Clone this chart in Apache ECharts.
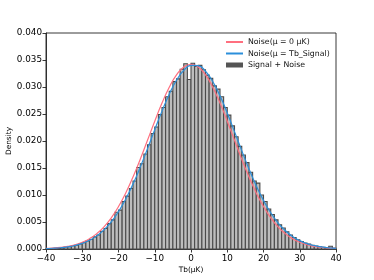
<!DOCTYPE html>
<html>
<head>
<meta charset="utf-8">
<script src="https://cdn.jsdelivr.net/npm/echarts@6/dist/echarts.min.js"></script>
<style>html,body{margin:0;padding:0;background:#fff}#c{width:374px;height:280px}</style>
</head>
<body>
<div id="c"></div>
<script>
// Histogram bins: left edges (width 1 μK) and densities
var binEdges = [];
for (var e = -40; e < 40; e++) binEdges.push(e);
var histDensity = [
  0.00005,0.0001,0.00012,0.00018,0.00025,0.00036,0.00044,0.0006,0.00072,0.00095,
  0.00115,0.00148,0.00175,0.00225,0.0026,0.0033,0.0038,0.0047,0.0054,0.0068,
  0.0072,0.0088,0.0098,0.0112,0.0126,0.0151,0.0158,0.0176,0.0193,0.0214,
  0.0226,0.0249,0.0262,0.0282,0.0292,0.0310,0.0315,0.0333,0.0343,0.0314,
  0.0344,0.0338,0.0340,0.0332,0.0322,0.0316,0.0302,0.0296,0.0282,0.0262,
  0.0248,0.0228,0.0208,0.0190,0.0174,0.0160,0.0142,0.0126,0.0122,0.0100,
  0.0088,0.0074,0.0064,0.0054,0.0045,0.0039,0.0032,0.0026,0.0021,0.0017,
  0.0014,0.0011,0.0009,0.0007,0.00055,0.00042,0.00032,0.00022,0.0005,0.00015
];
// Curve sample positions
var curveX = [-40,-38,-36,-34,-32,-30,-28,-26,-24,-22,-20,-18,-16,-14,-12,-10,-8,-6,-4,-2,0,
              2,4,6,8,10,12,14,16,18,20,22,24,26,28,30,32,34,36,38,40];
var noiseZero = [0.00010,0.00017,0.00029,0.00049,0.00079,0.00125,0.00191,0.00285,0.00411,0.00577,
                 0.00786,0.01039,0.01334,0.01663,0.02014,0.02367,0.02702,0.02996,0.03225,0.03370,0.0342,
                 0.03370,0.03225,0.02996,0.02702,0.02367,0.02014,0.01663,0.01334,0.01039,0.00786,
                 0.00577,0.00411,0.00285,0.00191,0.00125,0.00079,0.00049,0.00029,0.00017,0.00010];
var noiseSignal = [0.000076,0.000136,0.000236,0.000399,0.000654,0.00104,0.00161,0.00243,0.00354,0.00502,
                   0.00692,0.00925,0.01202,0.01516,0.01857,0.02210,0.02553,0.02866,0.03124,0.03307,0.03400,
                   0.03395,0.03292,0.03101,0.02836,0.02520,0.02174,0.01822,0.01483,0.01172,0.00900,
                   0.00671,0.00486,0.00342,0.00233,0.00155,0.00100,0.00062,0.00038,0.00022,0.00013];
var xTicks = [-40,-30,-20,-10,0,10,20,30,40];
var yTicks = [0,0.005,0.01,0.015,0.02,0.025,0.03,0.035,0.04];

var FONT = 'DejaVu Sans';
var histData = binEdges.map(function(x, i){ return [x, x + 1, histDensity[i]]; });
function zip(xs, ys){ return xs.map(function(x,i){ return [x, ys[i]]; }); }

var chart = echarts.init(document.getElementById('c'), null, {renderer:'canvas'});
chart.setOption({
  animation: false,
  backgroundColor: '#fff',
  textStyle: {fontFamily: FONT, color: '#000'},
  grid: {left: 46, right: 38, top: 33, bottom: 31, containLabel: false, outerBoundsMode: 'none',
         show: true, borderColor: '#222', borderWidth: 0.9, backgroundColor: 'transparent'},
  legend: {
    left: 225, top: 38, orient: 'vertical', itemWidth: 17, itemHeight: 5, itemGap: 3.5, padding: 0,
    textStyle: {fontFamily: FONT, fontSize: 7.8, color: '#111'},
    data: [
      {name: 'Noise(μ = 0 μK)', itemStyle: {opacity: 0}},
      {name: 'Noise(μ = Tb_Signal)', itemStyle: {opacity: 0}},
      {name: 'Signal + Noise', icon: 'rect', itemStyle: {color: '#555555', borderWidth: 0}}
    ]
  },
  xAxis: {
    type: 'value', min: -40, max: 40, interval: 10,
    name: 'Tb(μK)', nameLocation: 'middle', nameGap: 18, nameMoveOverlap: false,
    nameTextStyle: {fontFamily: FONT, fontSize: 7.4, color: '#000'},
    axisLine: {show: true, onZero: false, lineStyle: {color: '#222', width: 0.9}},
    axisTick: {show: true, length: 3.5, lineStyle: {color: '#222', width: 0.9}},
    axisLabel: {fontFamily: FONT, fontSize: 8.8, color: '#000', margin: 5,
      formatter: function(v){ return xTicks.indexOf(v) >= 0 ? String(v).replace('-', '\u2212') : ''; }},
    splitLine: {show: false}
  },
  yAxis: {
    type: 'value', min: 0, max: 0.04, interval: 0.005,
    name: 'Density', nameLocation: 'middle', nameGap: 33, nameRotate: 90, nameMoveOverlap: false,
    nameTextStyle: {fontFamily: FONT, fontSize: 7.4, color: '#000'},
    axisLine: {show: true, onZero: false, lineStyle: {color: '#222', width: 0.9}},
    axisTick: {show: true, length: 3.5, lineStyle: {color: '#222', width: 0.9}},
    axisLabel: {fontFamily: FONT, fontSize: 8.8, color: '#000', margin: 4,
      formatter: function(v){ return v.toFixed(3); }},
    splitLine: {show: false}
  },
  series: [
    {
      name: 'Signal + Noise', type: 'custom', z: 1,
      data: histData,
      encode: {x: [0, 1], y: 2},
      itemStyle: {color: '#555555'},
      renderItem: function(params, api){
        var p0 = api.coord([api.value(0), api.value(2)]);
        var p1 = api.coord([api.value(1), 0]);
        return {type: 'rect', shape: {x: p0[0], y: p0[1], width: p1[0]-p0[0], height: p1[1]-p0[1]},
          style: {fill: '#bdbdbd', stroke: '#4a4a4a', lineWidth: 1.1}};
      }
    },
    {
      name: 'Noise(μ = 0 μK)', type: 'line', z: 3, smooth: true, symbol: 'none',
      data: zip(curveX, noiseZero), lineStyle: {color: '#ff6f7f', width: 1.2}, itemStyle: {color: '#ff6f7f'}
    },
    {
      name: 'Noise(μ = Tb_Signal)', type: 'line', z: 4, smooth: true, symbol: 'none',
      data: zip(curveX, noiseSignal), lineStyle: {color: '#2b8fdb', width: 1.2}, itemStyle: {color: '#2b8fdb'}
    }
  ]
});
</script>
</body>
</html>
